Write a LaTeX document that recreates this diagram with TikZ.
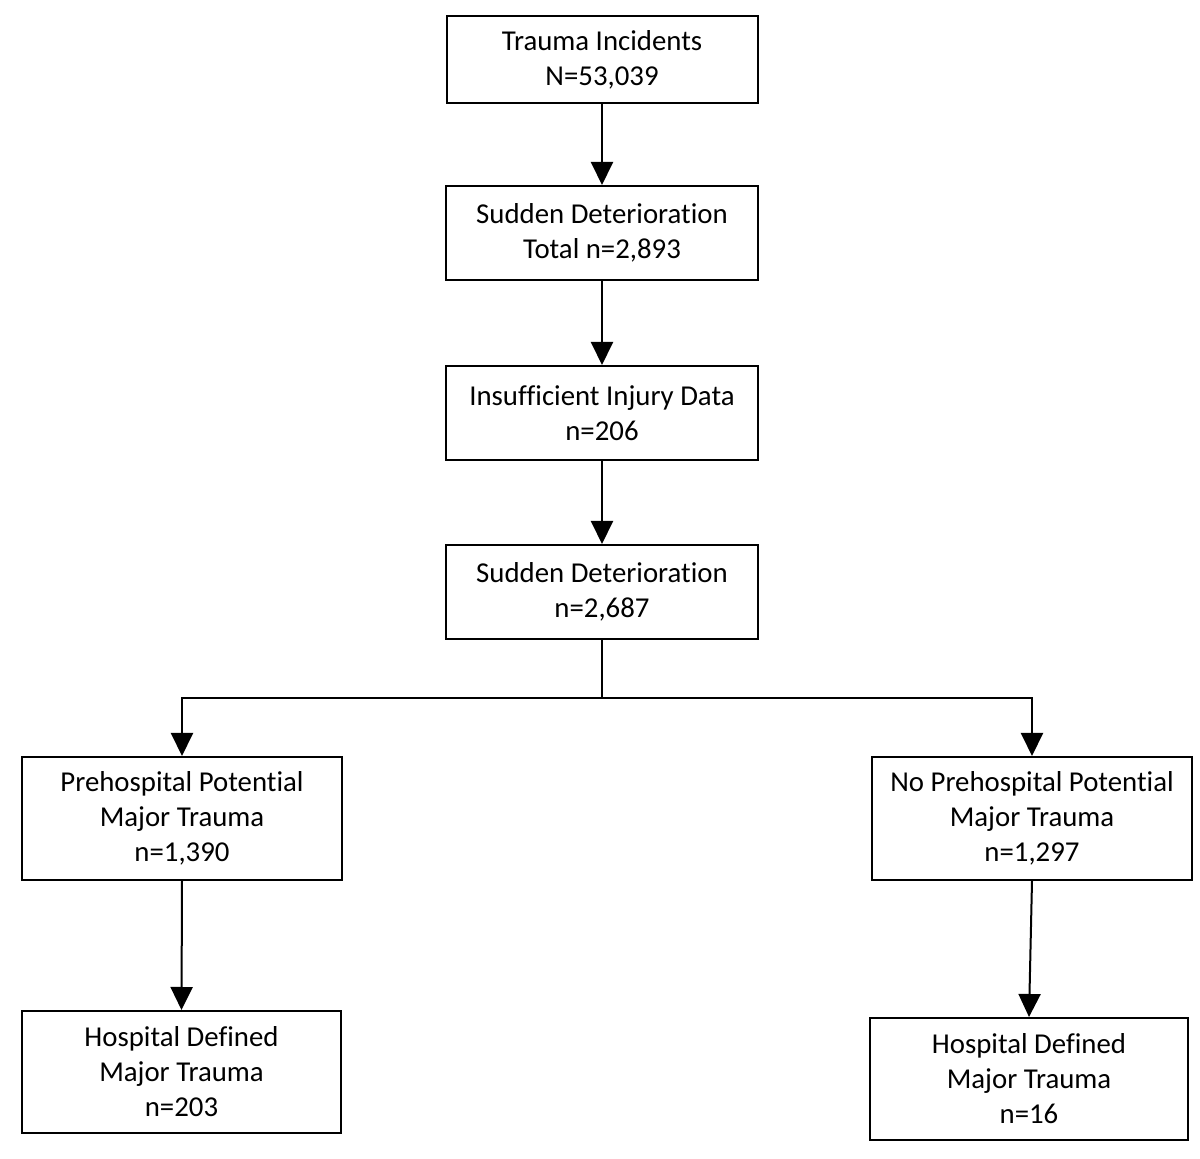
\documentclass[tikz,border=0pt]{standalone}
\usepackage{fontspec}
\setmainfont{Carlito}[Ligatures=NoCommon]
\usetikzlibrary{arrows.meta}
\begin{document}
\begin{tikzpicture}[x=0.5pt,y=-0.5pt,
  box/.style={draw, line width=1pt, inner sep=0pt, align=center,
    font=\fontsize{14.4}{17.5}\selectfont},
  conn/.style={line width=1pt},
  arr/.style={line width=1pt, -{Triangle[width=11pt,length=11.5pt]}}]
\useasboundingbox (0,0) rectangle (1200,1159);
\node[box, minimum width=155.5pt, minimum height=43.5pt] (b1) at (602,59.5) {Trauma Incidents\\N=53,039};
\node[box, minimum width=156pt, minimum height=47pt] (b2) at (602,233) {Sudden Deterioration\\Total n=2,893};
\node[box, minimum width=156pt, minimum height=47pt] (b3) at (602,413) {Insufficient Injury Data\\n=206};
\node[box, minimum width=156pt, minimum height=47pt] (b4) at (602,592) {Sudden Deterioration\\n=2,687};
\node[box, minimum width=160pt, minimum height=61.5pt] (b5) at (182,818.5) {Prehospital Potential\\Major Trauma\\n=1,390};
\node[box, minimum width=160pt, minimum height=61.5pt] (b6) at (1032,818.5) {No Prehospital Potential\\Major Trauma\\n=1,297};
\node[box, minimum width=159.5pt, minimum height=61pt] (b7) at (181.5,1072) {Hospital Defined\\Major Trauma\\n=203};
\node[box, minimum width=159pt, minimum height=61pt] (b8) at (1029,1079) {Hospital Defined\\Major Trauma\\n=16};
\coordinate (sp) at (602,698);
\draw[arr] (b1) -- (b2);
\draw[arr] (b2) -- (b3);
\draw[arr] (b3) -- (b4);
\draw[conn] (b4.south) -- (sp);
\draw[arr] (sp) -| (b5.north);
\draw[arr] (sp) -| (b6.north);
\draw[arr] (b5.south) -- (b7.north);
\draw[arr] (b6.south) -- (b8.north);
\end{tikzpicture}
\end{document}
